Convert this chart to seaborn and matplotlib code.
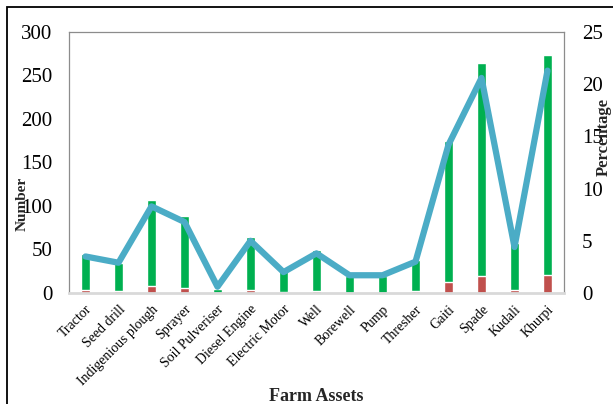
import numpy as np
import pandas as pd
import matplotlib
matplotlib.use("Agg")
import matplotlib.pyplot as plt
from matplotlib.patches import Rectangle
import seaborn as sns

sns.set_theme(style="white")
plt.rcParams["font.family"] = ["Liberation Serif", "DejaVu Serif"]

assets = ["Tractor", "Seed drill", "Indigenious plough", "Sprayer", "Soil Pulveriser",
          "Diesel Engine", "Electric Motor", "Well", "Borewell", "Pump", "Thresher",
          "Gaiti", "Spade", "Kudali", "Khurpi"]
# lower (red) and upper (green) stacked segments of each column
red_counts = [3, 2, 8, 6, 0, 4, 1, 2, 0, 0, 2, 13, 20, 4, 21]
green_counts = [42, 33, 99, 82, 5, 60, 24, 48, 20, 20, 36, 162, 244, 53, 252]
percentage = [3.5, 2.9, 8.3, 6.8, 0.6, 5.0, 2.0, 3.8, 1.7, 1.7, 3.0, 14.2, 20.6, 4.4, 21.3]

df = pd.DataFrame({"asset": assets, "red": red_counts, "green": green_counts,
                   "pct": percentage})
df["total"] = df["red"] + df["green"]
df["pos"] = np.arange(len(df))

GREEN = "#00B050"
RED = "#C0504D"
LINE = "#4BACC6"

fig = plt.figure(figsize=(6.13, 4.04), dpi=100)
ax = fig.add_axes([69 / 613, 1 - 293 / 404, (564 - 69) / 613, (293 - 32) / 404])

sns.barplot(data=df, x="asset", y="total", color=GREEN, width=0.3,
            saturation=1, ax=ax, order=assets)
sns.barplot(data=df, x="asset", y="red", color=RED, width=0.3,
            saturation=1, ax=ax, order=assets)

ax.set_ylim(0, 300)
ax.set_yticks([0, 50, 100, 150, 200, 250, 300])
ax.set_xlim(-0.5, len(assets) - 0.5)
ax.set_xlabel("Farm Assets", fontsize=13, fontweight="bold", labelpad=0)
ax.set_ylabel("")
ax.tick_params(axis="y", length=0, pad=12, labelsize=15, colors="black")
ax.tick_params(axis="x", length=0, pad=7, labelsize=10, colors="black")
plt.setp(ax.get_xticklabels(), rotation=45, ha="right", rotation_mode="anchor")

for side in ["left", "top", "right"]:
    ax.spines[side].set_color("#8C8C8C")
    ax.spines[side].set_linewidth(0.9)
ax.spines["bottom"].set_color("#D9D9D9")
ax.spines["bottom"].set_linewidth(2)

ax2 = ax.twinx()
sns.lineplot(data=df, x="pos", y="pct", color=LINE, linewidth=4.5, ax=ax2,
             solid_joinstyle="round", solid_capstyle="round")
ax2.set_ylim(0, 25)
ax2.set_yticks([0, 5, 10, 15, 20, 25])
ax2.set_ylabel("")
ax2.tick_params(axis="y", length=0, pad=13, labelsize=15, colors="black")
for side in ["left", "top", "right", "bottom"]:
    ax2.spines[side].set_visible(False)

fig.text(22 / 613, 1 - 204 / 404, "Number", rotation=90, fontsize=11,
         fontweight="bold", ha="center", va="center")
fig.text(604 / 613, 1 - 137 / 404, "Percentage", rotation=90, fontsize=12,
         fontweight="bold", ha="center", va="center")

fig.patches.append(Rectangle((7 / 613, -0.2), 1.2, 0.2 + 1 - 7 / 404,
                             transform=fig.transFigure, fill=False,
                             edgecolor="black", linewidth=1.3))

fig.savefig("out.png", dpi=100)
